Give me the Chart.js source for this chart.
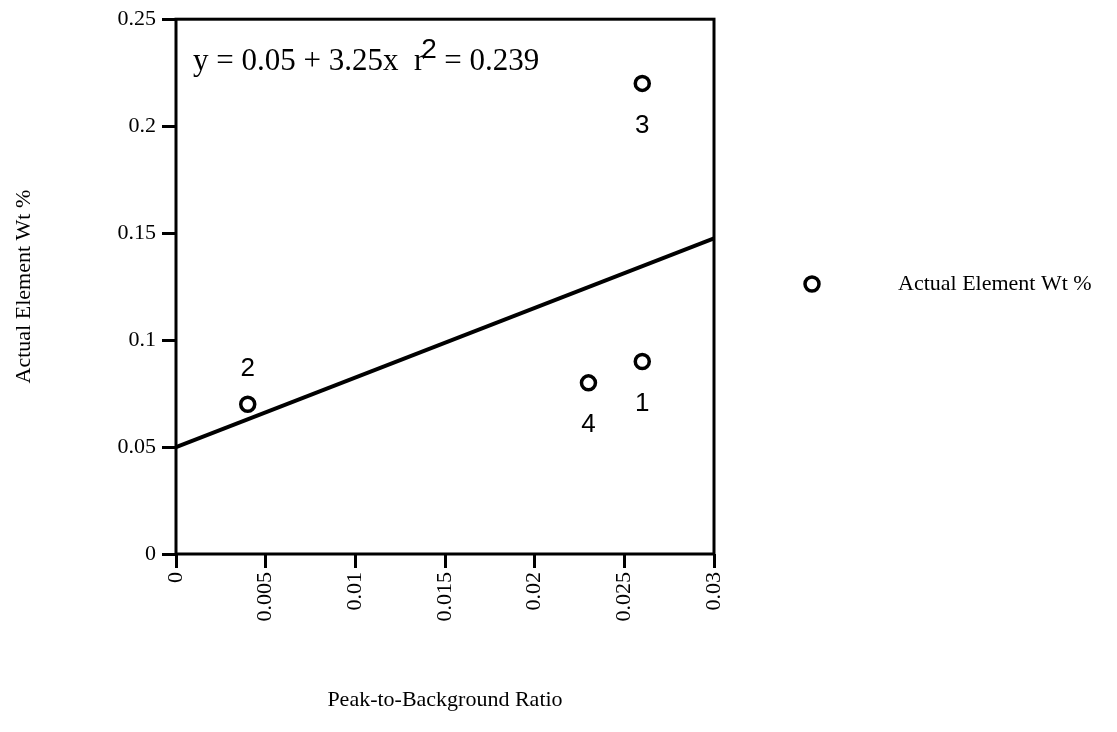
<!DOCTYPE html>
<html>
<head>
<meta charset="utf-8">
<script src="https://cdn.jsdelivr.net/npm/chart.js@4"></script>
<style>
  body { margin: 0; background: #fff; }
  #wrap { width: 1117px; height: 732px; }
</style>
</head>
<body>
<div id="wrap"><canvas id="scatterCanvas" width="1117" height="732"></canvas></div>
<script>
// values
var sampleIds = ['1', '2', '3', '4'];
var peakRatio = [0.026, 0.004, 0.026, 0.023];
var elementWt = [0.09, 0.07, 0.22, 0.08];
var labelSide = ['below', 'above', 'below', 'below'];
var fitX = [0, 0.03];
var fitY = [0.05, 0.1475];
var xTickLabels = ['0', '0.005', '0.01', '0.015', '0.02', '0.025', '0.03'];
var yTickLabels = ['0', '0.05', '0.1', '0.15', '0.2', '0.25'];
var xTickValues = [0, 0.005, 0.01, 0.015, 0.02, 0.025, 0.03];
var yTickValues = [0, 0.05, 0.1, 0.15, 0.2, 0.25];
var equationText = 'y = 0.05 + 3.25x  r';
var equationTail = '= 0.239';
var seriesName = 'Actual Element Wt %';
var xTitle = 'Peak-to-Background Ratio';
var yTitle = 'Actual Element Wt %';

var serif = '"Liberation Serif", "Times New Roman", serif';
var sans = '"Liberation Sans", Arial, sans-serif';

var points = peakRatio.map((x, i) => ({ x: x, y: elementWt[i] }));
var fitLine = fitX.map((x, i) => ({ x: x, y: fitY[i] }));

// frame, titles, equation, point numbers and legend
var extras = {
    id: 'extras',
    afterDraw(chart) {
        var ctx = chart.ctx;
        var a = chart.chartArea;
        var xs = chart.scales.x, ys = chart.scales.y;
        ctx.save();
        ctx.strokeStyle = '#000';
        ctx.lineWidth = 3;
        ctx.strokeRect(a.left, a.top, a.right - a.left, a.bottom - a.top);

        ctx.fillStyle = '#000';
        ctx.font = '31px ' + serif;
        ctx.textBaseline = 'alphabetic';
        ctx.textAlign = 'left';
        var ex = a.left + 17, ey = 70;
        ctx.fillText(equationText, ex, ey);
        var w = ctx.measureText(equationText).width;
        ctx.font = '28px ' + sans;
        ctx.fillText('2', ex + w - 3, ey - 12);
        ctx.font = '31px ' + serif;
        ctx.fillText(equationTail, ex + w + 20, ey);

        ctx.font = '26px ' + sans;
        ctx.textAlign = 'center';
        ctx.textBaseline = 'middle';
        sampleIds.forEach((id, i) => {
            var px = xs.getPixelForValue(peakRatio[i]);
            var py = ys.getPixelForValue(elementWt[i]);
            ctx.fillText(id, px, labelSide[i] === 'above' ? py - 35 : py + 42);
        });

        ctx.font = '22px ' + serif;
        ctx.fillText(xTitle, (a.left + a.right) / 2, 700);
        ctx.save();
        ctx.translate(24, (a.top + a.bottom) / 2);
        ctx.rotate(-Math.PI / 2);
        ctx.fillText(yTitle, 0, 0);
        ctx.restore();

        // legend
        ctx.beginPath();
        ctx.arc(812, 284, 7, 0, Math.PI * 2);
        ctx.fillStyle = '#fff';
        ctx.fill();
        ctx.lineWidth = 3.5;
        ctx.stroke();
        ctx.fillStyle = '#000';
        ctx.textAlign = 'left';
        ctx.font = '22px ' + serif;
        ctx.fillText(seriesName, 898, 284);
        ctx.restore();
    }
};

var tickFont = { family: serif, size: 22 };

new Chart(document.getElementById('scatterCanvas').getContext('2d'), {
    type: 'scatter',
    data: {
        datasets: [{
            label: seriesName,
            data: points,
            pointStyle: 'circle',
            pointRadius: 7,
            borderWidth: 3.5,
            borderColor: '#000',
            backgroundColor: '#fff'
        }, {
            type: 'line',
            label: 'fit',
            data: fitLine,
            borderColor: '#000',
            borderWidth: 4,
            pointRadius: 0,
            tension: 0
        }]
    },
    options: {
        responsive: false,
        animation: false,
        layout: { padding: { left: 76, top: 18, right: 403, bottom: 78 } },
        plugins: { legend: { display: false }, tooltip: { enabled: false } },
        scales: {
            x: {
                type: 'linear',
                min: 0, max: 0.03,
                afterBuildTicks: s => { s.ticks = xTickValues.map(v => ({ value: v })); },
                afterFit: s => { s.height = 100; },
                border: { display: false },
                grid: { drawOnChartArea: false, drawTicks: true, tickLength: 14, color: '#000', lineWidth: 3 },
                ticks: {
                    minRotation: 90, maxRotation: 90,
                    color: '#000', font: tickFont, padding: 4,
                    callback: (v, i) => xTickLabels[i]
                }
            },
            y: {
                min: 0, max: 0.25,
                afterBuildTicks: s => { s.ticks = yTickValues.map(v => ({ value: v })); },
                afterFit: s => { s.width = 100; },
                border: { display: false },
                grid: { drawOnChartArea: false, drawTicks: true, tickLength: 14, color: '#000', lineWidth: 3 },
                ticks: {
                    color: '#000', font: tickFont, padding: 6,
                    callback: (v, i) => yTickLabels[i]
                }
            }
        }
    },
    plugins: [extras]
});
</script>
</body>
</html>
